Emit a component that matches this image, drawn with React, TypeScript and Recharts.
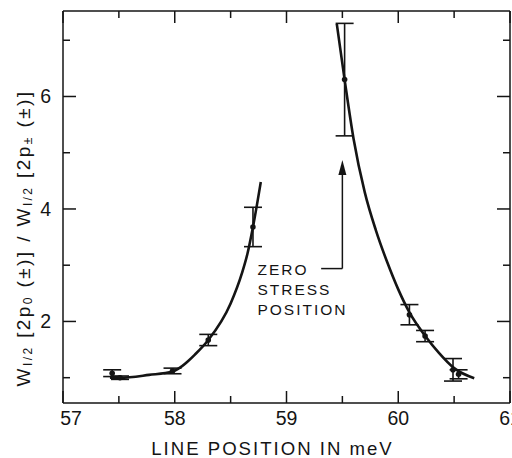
import React from 'react';
import {
  ComposedChart,
  Line,
  Scatter,
  ErrorBar,
  XAxis,
  YAxis,
  ReferenceLine,
  ReferenceDot,
} from 'recharts';

// measured points with error bars
const pointX = [57.44, 57.51, 57.98, 58.3, 58.7, 59.52, 60.1, 60.24, 60.49, 60.54];
const pointY = [1.08, 1.0, 1.12, 1.67, 3.68, 6.3, 2.12, 1.74, 1.14, 1.06];
const pointErr = [0.06, 0.03, 0.05, 0.1, 0.35, 1.0, 0.18, 0.1, 0.2, 0.08];

// fitted curves
const leftCurveX = [57.42, 57.51, 57.77, 57.98, 58.19, 58.3, 58.5, 58.6, 58.65, 58.7, 58.77];
const leftCurveY = [1.0, 1.0, 1.05, 1.11, 1.43, 1.67, 2.32, 2.85, 3.2, 3.68, 4.48];
const rightCurveX = [59.45, 59.52, 59.6, 59.7, 59.8, 59.9, 60.0, 60.1, 60.25, 60.36, 60.5, 60.68];
const rightCurveY = [7.29, 6.3, 5.25, 4.3, 3.62, 3.06, 2.57, 2.16, 1.72, 1.45, 1.17, 0.99];

const xTicks = [57, 57.5, 58, 58.5, 59, 59.5, 60, 60.5, 61];
const yTicks = [1, 2, 3, 4, 5, 6, 7];

const xTitle = 'LINE POSITION IN meV';
const noteLines = ['ZERO', 'STRESS', 'POSITION'];
const noteX = 58.74;
const noteY = 2.82;
const arrowX = 59.5;
const arrowElbowX = 59.31;
const arrowBaseY = 2.94;
const arrowTipY = 4.87;

const points = pointX.map((x, i) => ({ x, y: pointY[i], err: pointErr[i] }));
const leftCurve = leftCurveX.map((x, i) => ({ x, y: leftCurveY[i] }));
const rightCurve = rightCurveX.map((x, i) => ({ x, y: rightCurveY[i] }));

const INK = '#141414';
const FONT = '"Liberation Sans", Arial, Helvetica, sans-serif';

const isMajor = (v: number) => Number.isInteger(v) && v % 2 === 0;

const BottomTick = ({ x, y, payload, index }: any) => {
  const major = Number.isInteger(payload.value);
  // first label sits a little right of its tick in the original
  const shift = index === 0 ? 8 : 0;
  return (
    <g>
      <line x1={x} x2={x} y1={y} y2={y - (major ? 12 : 7)} stroke={INK} strokeWidth={1.5} />
      {major && (
        <text x={x + shift} y={y + 22} textAnchor="middle" fontSize={19.5} fontFamily={FONT} fill={INK}>
          {payload.value}
        </text>
      )}
    </g>
  );
};

const TopTick = ({ x, y, payload }: any) => {
  const major = Number.isInteger(payload.value);
  return <line x1={x} x2={x} y1={y} y2={y + (major ? 12 : 7)} stroke={INK} strokeWidth={1.5} />;
};

const LeftTick = ({ x, y, payload }: any) => {
  const major = isMajor(payload.value);
  return (
    <g>
      <line x1={x} x2={x + (major ? 13 : 7)} y1={y} y2={y} stroke={INK} strokeWidth={1.5} />
      {major && (
        <text x={x - 12} y={y + 7} textAnchor="end" fontSize={19.5} fontFamily={FONT} fill={INK}>
          {payload.value}
        </text>
      )}
    </g>
  );
};

const RightTick = ({ x, y, payload }: any) => {
  const major = isMajor(payload.value);
  return <line x1={x} x2={x - (major ? 13 : 7)} y1={y} y2={y} stroke={INK} strokeWidth={1.5} />;
};

const XTitle = ({ viewBox }: any) => {
  const vb = viewBox || { x: 63, y: 403, width: 447, height: 55 };
  return (
    <text
      x={vb.x + vb.width / 2 - 14}
      y={vb.y + 52}
      textAnchor="middle"
      fontSize={18.6}
      fontFamily={FONT}
      fill={INK}
      letterSpacing={2}
    >
      {xTitle}
    </text>
  );
};

const YTitle = ({ viewBox }: any) => {
  const vb = viewBox || { x: 0, y: 11, width: 63, height: 392 };
  const cx = vb.x + 23;
  const cy = vb.y + vb.height / 2 + 31;
  const sub = { fontSize: 12 };
  return (
    <text
      x={cx}
      y={cy}
      transform={`rotate(-90 ${cx} ${cy})`}
      textAnchor="middle"
      dominantBaseline="central"
      fontSize={19}
      fontFamily={FONT}
      fill={INK}
      letterSpacing={2.4}
    >
      W<tspan {...sub} dy={5}>I/2</tspan>
      <tspan dy={-5}> [2p</tspan>
      <tspan {...sub} dy={5}>0</tspan>
      <tspan dy={-5}> (±)] / W</tspan>
      <tspan {...sub} dy={5}>I/2</tspan>
      <tspan dy={-5}> [2p</tspan>
      <tspan {...sub} dy={5}>±</tspan>
      <tspan dy={-5}> (±)]</tspan>
    </text>
  );
};

const Dot = ({ cx, cy }: any) => <circle cx={cx} cy={cy} r={2.8} fill={INK} />;

const ArrowHead = ({ cx, cy }: any) => (
  <path d={`M${cx},${cy} L${cx - 4},${cy + 15} L${cx + 4},${cy + 15} Z`} fill={INK} />
);

const Note = ({ cx, cy }: any) => (
  <text x={cx} y={cy} fontSize={15.5} fontFamily={FONT} fill={INK} letterSpacing={2}>
    {noteLines.map((t, i) => (
      <tspan key={t} x={cx} dy={i === 0 ? 0 : 20}>
        {t}
      </tspan>
    ))}
  </text>
);

export default function App() {
  return (
    <div
      style={{
        position: 'absolute',
        top: 0,
        left: 0,
        width: 512,
        height: 458,
        overflow: 'hidden',
        background: '#fff',
      }}
    >
      <ComposedChart width={512} height={458} margin={{ top: 0, right: 0, bottom: 0, left: 0 }}>
        <XAxis
          dataKey="x"
          type="number"
          domain={[57, 61]}
          ticks={xTicks}
          interval={0}
          allowDataOverflow
          height={55}
          tickSize={0}
          tickMargin={0}
          tickLine={false}
          tick={<BottomTick />}
          axisLine={{ stroke: INK, strokeWidth: 1.5 }}
          label={<XTitle />}
        />
        <XAxis
          xAxisId="top"
          orientation="top"
          dataKey="x"
          type="number"
          domain={[57, 61]}
          ticks={xTicks}
          interval={0}
          allowDataOverflow
          height={11}
          tickSize={0}
          tickMargin={0}
          tickLine={false}
          tick={<TopTick />}
          axisLine={{ stroke: INK, strokeWidth: 1.5 }}
        />
        <YAxis
          type="number"
          domain={[0.55, 7.52]}
          ticks={yTicks}
          interval={0}
          allowDataOverflow
          width={63}
          tickSize={0}
          tickMargin={0}
          tickLine={false}
          tick={<LeftTick />}
          axisLine={{ stroke: INK, strokeWidth: 1.5 }}
          label={<YTitle />}
        />
        <YAxis
          yAxisId="right"
          orientation="right"
          type="number"
          domain={[0.55, 7.52]}
          ticks={yTicks}
          interval={0}
          allowDataOverflow
          width={2}
          tickSize={0}
          tickMargin={0}
          tickLine={false}
          tick={<RightTick />}
          axisLine={{ stroke: INK, strokeWidth: 1.5 }}
        />
        <Line
          data={leftCurve}
          dataKey="y"
          type="monotone"
          stroke={INK}
          strokeWidth={2.6}
          dot={false}
          activeDot={false}
          isAnimationActive={false}
        />
        <Line
          data={rightCurve}
          dataKey="y"
          type="monotone"
          stroke={INK}
          strokeWidth={2.6}
          dot={false}
          activeDot={false}
          isAnimationActive={false}
        />
        <Scatter data={points} dataKey="y" shape={<Dot />} isAnimationActive={false}>
          <ErrorBar dataKey="err" direction="y" width={9} stroke={INK} strokeWidth={1.6} />
        </Scatter>
        <ReferenceLine
          segment={[
            { x: arrowElbowX, y: arrowBaseY },
            { x: arrowX, y: arrowBaseY },
          ]}
          stroke={INK}
          strokeWidth={1.5}
        />
        <ReferenceLine
          segment={[
            { x: arrowX, y: arrowBaseY },
            { x: arrowX, y: arrowTipY - 0.2 },
          ]}
          stroke={INK}
          strokeWidth={1.5}
        />
        <ReferenceDot x={arrowX} y={arrowTipY} shape={<ArrowHead />} />
        <ReferenceDot x={noteX} y={noteY} shape={<Note />} />
      </ComposedChart>
    </div>
  );
}
